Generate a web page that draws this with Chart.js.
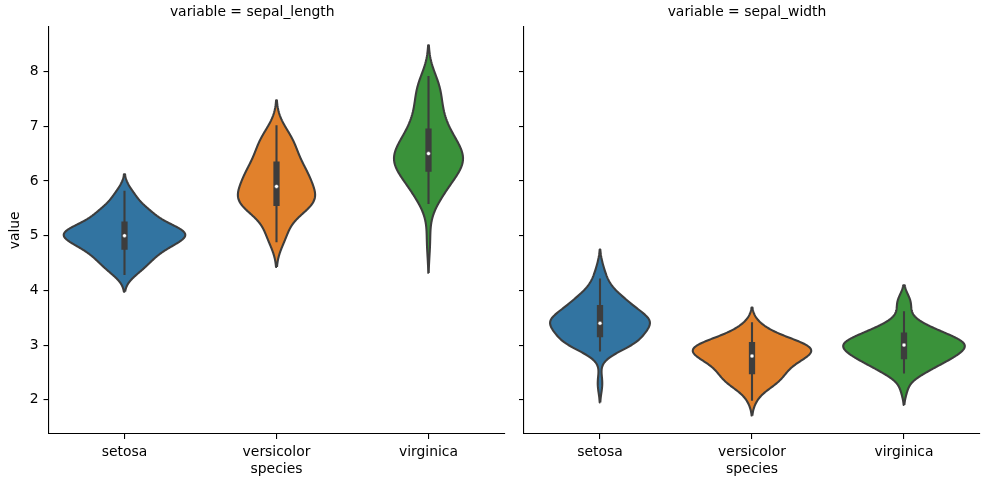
<!DOCTYPE html>
<html>
<head>
<meta charset="utf-8">
<script src="https://cdn.jsdelivr.net/npm/chart.js@4.4.1/dist/chart.umd.min.js"></script>
<style>
  body { margin: 0; background: #fff; }
  #wrap { position: relative; width: 987px; height: 477px; }
  canvas { position: absolute; top: 0; }
</style>
</head>
<body>
<div id="wrap">
  <canvas id="left" width="514" height="477" style="left:0"></canvas>
  <canvas id="right" width="473" height="477" style="left:514px"></canvas>
</div>
<script>
// iris 데이터 (종별 관측값)
var categories = ["setosa", "versicolor", "virginica"];
var facetTitles = ["variable = sepal_length", "variable = sepal_width"];
var yTicks = [2, 3, 4, 5, 6, 7, 8];
var colors = ["#3274a1", "#e1812c", "#3a923a"];

var setosaSepalLength = [5.1,4.9,4.7,4.6,5.0,5.4,4.6,5.0,4.4,4.9,5.4,4.8,4.8,4.3,5.8,5.7,5.4,5.1,5.7,5.1,5.4,5.1,4.6,5.1,4.8,5.0,5.0,5.2,5.2,4.7,4.8,5.4,5.2,5.5,4.9,5.0,5.5,4.9,4.4,5.1,5.0,4.5,4.4,5.0,5.1,4.8,5.1,4.6,5.3,5.0];
var versicolorSepalLength = [7.0,6.4,6.9,5.5,6.5,5.7,6.3,4.9,6.6,5.2,5.0,5.9,6.0,6.1,5.6,6.7,5.6,5.8,6.2,5.6,5.9,6.1,6.3,6.1,6.4,6.6,6.8,6.7,6.0,5.7,5.5,5.5,5.8,6.0,5.4,6.0,6.7,6.3,5.6,5.5,5.5,6.1,5.8,5.0,5.6,5.7,5.7,6.2,5.1,5.7];
var virginicaSepalLength = [6.3,5.8,7.1,6.3,6.5,7.6,4.9,7.3,6.7,7.2,6.5,6.4,6.8,5.7,5.8,6.4,6.5,7.7,7.7,6.0,6.9,5.6,7.7,6.3,6.7,7.2,6.2,6.1,6.4,7.2,7.4,7.9,6.4,6.3,6.1,7.7,6.3,6.4,6.0,6.9,6.7,6.9,5.8,6.8,6.7,6.7,6.3,6.5,6.2,5.9];

var setosaSepalWidth = [3.5,3.0,3.2,3.1,3.6,3.9,3.4,3.4,2.9,3.1,3.7,3.4,3.0,3.0,4.0,4.4,3.9,3.5,3.8,3.8,3.4,3.7,3.6,3.3,3.4,3.0,3.4,3.5,3.4,3.2,3.1,3.4,4.1,4.2,3.1,3.2,3.5,3.6,3.0,3.4,3.5,2.3,3.2,3.5,3.8,3.0,3.8,3.2,3.7,3.3];
var versicolorSepalWidth = [3.2,3.2,3.1,2.3,2.8,2.8,3.3,2.4,2.9,2.7,2.0,3.0,2.2,2.9,2.9,3.1,3.0,2.7,2.2,2.5,3.2,2.8,2.5,2.8,2.9,3.0,2.8,3.0,2.9,2.6,2.4,2.4,2.7,2.7,3.0,3.4,3.1,2.3,3.0,2.5,2.6,3.0,2.6,2.3,2.7,3.0,2.9,2.9,2.5,2.8];
var virginicaSepalWidth = [3.3,2.7,3.0,2.9,3.0,3.0,2.5,2.9,2.5,3.6,3.2,2.7,3.0,2.5,2.8,3.2,3.0,3.8,2.6,2.2,3.2,2.8,2.8,2.7,3.3,3.2,2.8,3.0,2.8,3.0,2.8,3.8,2.8,2.8,2.6,3.0,3.4,3.1,3.0,3.1,3.1,3.1,2.7,3.2,3.3,3.0,2.5,3.0,3.4,3.0];

var yMin = 1.375, yMax = 8.82;
var gray = "#3d3d3d";
var font = { family: "DejaVu Sans", size: 13.9 };

function percentile(sorted, p) {
  var pos = p * (sorted.length - 1);
  var lo = Math.floor(pos), hi = Math.ceil(pos);
  return sorted[lo] + (sorted[hi] - sorted[lo]) * (pos - lo);
}

// 가우시안 KDE (scott 대역폭, cut=2, gridsize=100)
function kde(values) {
  var n = values.length;
  var mean = values.reduce(function(a, b) { return a + b; }, 0) / n;
  var v = values.reduce(function(a, b) { return a + (b - mean) * (b - mean); }, 0) / (n - 1);
  var bw = Math.pow(n, -0.2) * Math.sqrt(v);
  var lo = Math.min.apply(null, values) - 2 * bw;
  var hi = Math.max.apply(null, values) + 2 * bw;
  var support = [], density = [];
  for (var i = 0; i < 100; i++) {
    var s = lo + (hi - lo) * i / 99;
    var d = 0;
    values.forEach(function(x) {
      var z = (s - x) / bw;
      d += Math.exp(-0.5 * z * z);
    });
    support.push(s);
    density.push(d / (n * bw * Math.sqrt(2 * Math.PI)));
  }
  return { support: support, density: density };
}

function buildDatasets(groups) {
  var kdes = groups.map(kde);
  var maxD = Math.max.apply(null, kdes.map(function(k) { return Math.max.apply(null, k.density); }));
  var datasets = [];
  groups.forEach(function(values, i) {
    var k = kdes[i];
    var pts = [];
    for (var j = 0; j < k.support.length; j++) pts.push({ x: i + 0.4 * k.density[j] / maxD, y: k.support[j] });
    for (var j = k.support.length - 1; j >= 0; j--) pts.push({ x: i - 0.4 * k.density[j] / maxD, y: k.support[j] });
    pts.push(pts[0]);
    // tension을 아주 작게 줘서 fast path(정수 x 반올림) 회피
    datasets.push({
      data: pts, showLine: true, fill: "shape", backgroundColor: colors[i],
      borderColor: gray, borderWidth: 2.1, pointRadius: 0, tension: 0.001,
      borderJoinStyle: "round", order: 3
    });

    var sorted = values.slice().sort(function(a, b) { return a - b; });
    var q25 = percentile(sorted, 0.25), q50 = percentile(sorted, 0.5), q75 = percentile(sorted, 0.75);
    var lim = 1.5 * (q75 - q25);
    var h1 = Math.min.apply(null, sorted.filter(function(x) { return x >= q25 - lim; }));
    var h2 = Math.max.apply(null, sorted.filter(function(x) { return x <= q75 + lim; }));
    datasets.push({
      data: [{ x: i, y: h1 }, { x: i, y: h2 }], showLine: true, borderColor: gray,
      borderWidth: 2.1, pointRadius: 0, borderCapStyle: "square", order: 2
    });
    datasets.push({
      data: [{ x: i, y: q25 }, { x: i, y: q75 }], showLine: true, borderColor: gray,
      borderWidth: 6.25, pointRadius: 0, borderCapStyle: "square", order: 1
    });
    datasets.push({
      data: [{ x: i, y: q50 }], showLine: false, pointRadius: 2,
      pointBackgroundColor: "#ffffff", pointBorderColor: gray, pointBorderWidth: 0.5, order: 0
    });
  });
  return datasets;
}

function makeFacet(canvasId, groups, title, showY) {
  var ctx = document.getElementById(canvasId).getContext("2d");
  return new Chart(ctx, {
    type: "scatter",
    data: { datasets: buildDatasets(groups) },
    options: {
      responsive: false,
      animation: false,
      devicePixelRatio: 1,
      layout: { padding: { left: 0, right: showY ? 9.5 : 7, top: 0, bottom: 0 } },
      plugins: {
        legend: { display: false },
        tooltip: { enabled: false },
        title: {
          display: true, text: title, color: "#000",
          font: { family: font.family, size: font.size, weight: "normal" },
          padding: { top: 4, bottom: 6 }
        }
      },
      scales: {
        x: {
          type: "linear", min: -0.5, max: 2.5,
          afterBuildTicks: function(scale) { scale.ticks = categories.map(function(c, i) { return { value: i }; }); },
          afterFit: function(scale) { scale.height = 43; },
          ticks: { color: "#000", font: font, padding: 5, maxRotation: 0,
                   callback: function(v) { return categories[v]; } },
          grid: { drawOnChartArea: false, drawTicks: true, tickLength: 5, color: "#000", lineWidth: 1.1 },
          border: { display: true, color: "#000", width: 1.1 },
          title: { display: true, text: "species", color: "#000",
                   font: { family: font.family, size: font.size, lineHeight: 1.05 }, padding: { top: 0, bottom: 0 } }
        },
        y: {
          type: "linear", min: yMin, max: yMax,
          afterBuildTicks: function(scale) { scale.ticks = yTicks.map(function(v) { return { value: v }; }); },
          afterFit: function(scale) { scale.width = showY ? 48.5 : 10; },
          ticks: { display: showY, color: "#000", font: font, padding: 5 },
          grid: { drawOnChartArea: false, drawTicks: true, tickLength: 5, color: "#000", lineWidth: 1.1 },
          border: { display: true, color: "#000", width: 1.1 },
          title: { display: showY, text: "value", color: "#000", font: font, padding: { top: 7.5, bottom: 0 } }
        }
      }
    }
  });
}

makeFacet("left", [setosaSepalLength, versicolorSepalLength, virginicaSepalLength], facetTitles[0], true);
makeFacet("right", [setosaSepalWidth, versicolorSepalWidth, virginicaSepalWidth], facetTitles[1], false);
</script>
</body>
</html>
